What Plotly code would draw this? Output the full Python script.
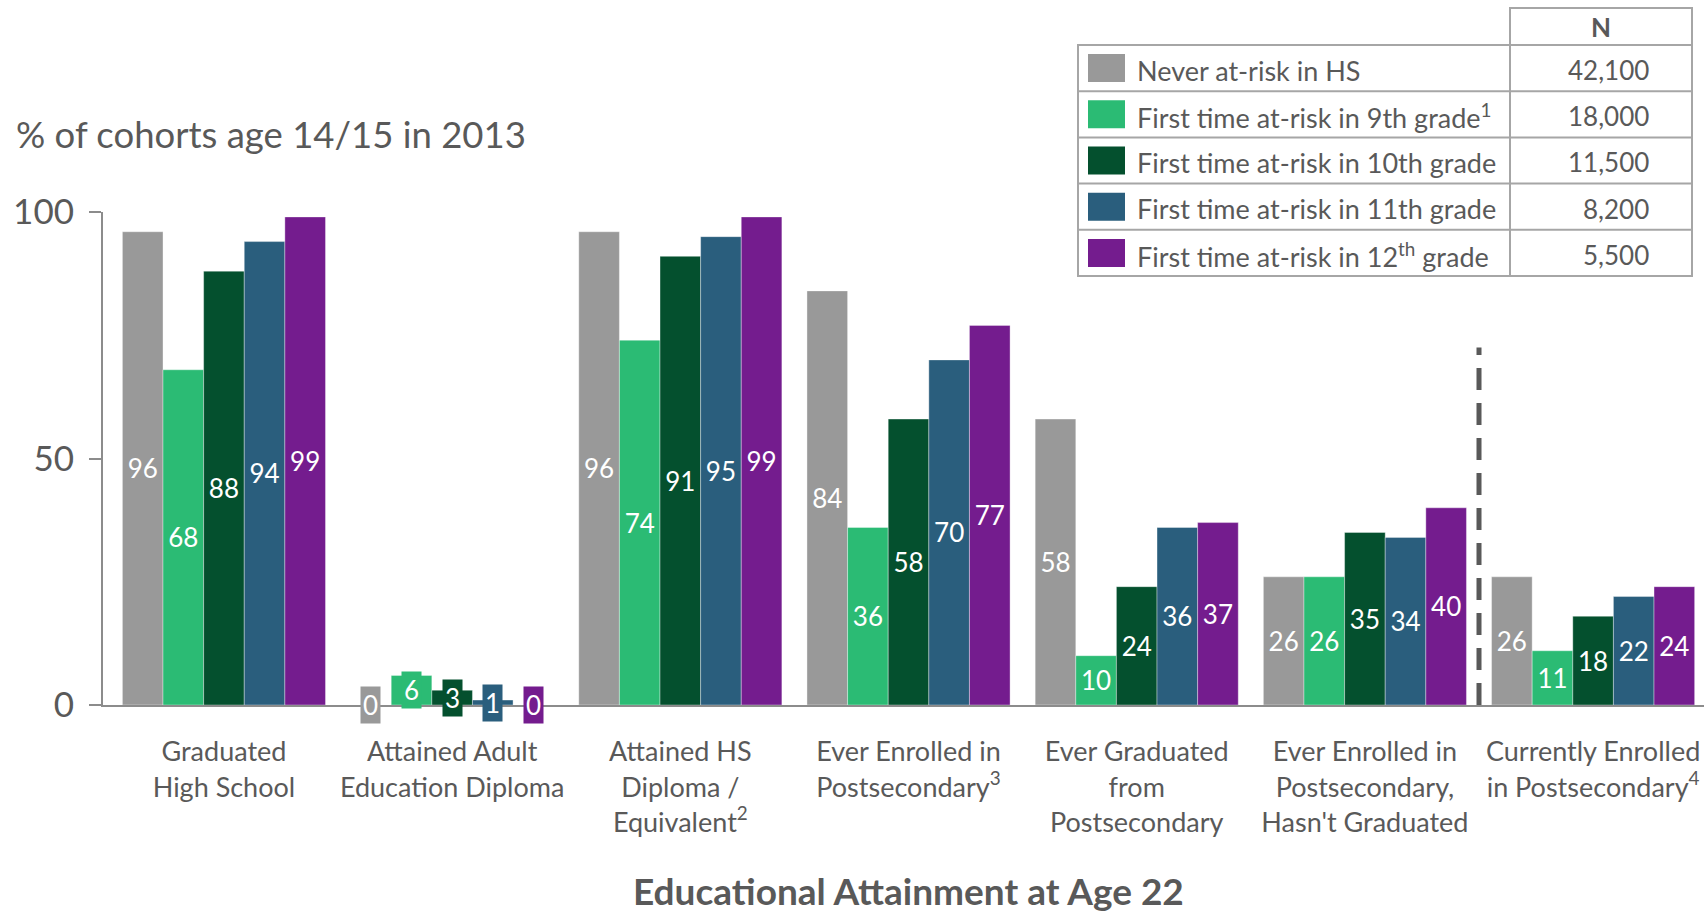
import plotly.graph_objects as go

# ---- data -------------------------------------------------------------
categories = [
    "Graduated<br>High School",
    "Attained Adult<br>Education Diploma",
    "Attained HS<br>Diploma /<br>Equivalent<sup>2</sup>",
    "Ever Enrolled in<br>Postsecondary<sup>3</sup>",
    "Ever Graduated<br>from<br>Postsecondary",
    "Ever Enrolled in<br>Postsecondary,<br>Hasn't Graduated",
    "Currently Enrolled<br>in Postsecondary<sup>4</sup>",
]
series_names = [
    "Never at-risk in HS",
    "First time at-risk in 9th grade<sup>1</sup>",
    "First time at-risk in 10th grade",
    "First time at-risk in 11th grade",
    "First time at-risk in 12<sup>th</sup> grade",
]
series_n = ["42,100", "18,000", "11,500", "8,200", "5,500"]

never_at_risk = [96, 0, 96, 84, 58, 26, 26]
first_9th = [68, 6, 74, 36, 10, 26, 11]
first_10th = [88, 3, 91, 58, 24, 35, 18]
first_11th = [94, 1, 95, 70, 36, 34, 22]
first_12th = [99, 0, 99, 77, 37, 40, 24]

y_ticks = [0, 50, 100]

# ---- style ------------------------------------------------------------
colors = ["#999999", "#2bbb74", "#04502e", "#2a5e7d", "#741c8e"]
FONT = "Lato"
TEXT = "#595959"
W, H = 1704, 914
L, R, T, B = 103, 0, 212, 209  # plot area margins (px)

all_series = [never_at_risk, first_9th, first_10th, first_11th, first_12th]
small_group = 1  # category whose bars are too short for inside labels
BARGAP = 0.11

fig = go.Figure()
for name, vals, col in zip(series_names, all_series, colors):
    labels = ["" if i == small_group else str(v) for i, v in enumerate(vals)]
    fig.add_trace(go.Bar(
        x=categories, y=vals, name=name,
        marker=dict(color=col, line=dict(width=0.6, color="rgba(255,255,255,0.6)")),
        text=labels, textposition="inside", insidetextanchor="middle", textangle=0,
        insidetextfont=dict(family=FONT, size=26, color="white"),
        showlegend=False, cliponaxis=False,
    ))

# boxed labels for the short bars
n_series = len(all_series)
bar_w = (1 - BARGAP) / n_series
for k, (vals, col) in enumerate(zip(all_series, colors)):
    v = vals[small_group]
    xoff = -((1 - BARGAP) / 2) + bar_w * (k + 0.5)
    fig.add_annotation(
        x=small_group + xoff, y=v / 2, xref="x", yref="y", yanchor="middle",
        text=str(v), showarrow=False, bgcolor=col, borderpad=2,
        font=dict(family=FONT, size=26, color="white"),
    )

# dashed divider before the last group
fig.add_shape(type="line", xref="x", yref="y", x0=5.5, x1=5.5, y0=0, y1=72.5,
              line=dict(color="#595959", width=5, dash="22px,13px"))

# ---- legend table (pixel positions converted to paper coords) ---------
pw, ph = W - L - R, H - T - B


def px(x):
    return (x - L) / pw


def py(y):
    return (H - B - y) / ph


tx0, tx1, tcol = 1078, 1692, 1510
ty0, row_h = 45, 46.2
border = dict(color="#a6a6a6", width=2)
n_rows = len(series_names)
ty1 = ty0 + row_h * n_rows
# header cell
fig.add_shape(type="rect", xref="paper", yref="paper", x0=px(tcol), x1=px(tx1),
              y0=py(ty0), y1=py(8), line=border)
fig.add_annotation(xref="paper", yref="paper", x=px((tcol + tx1) / 2), y=py(27),
                   xanchor="center", yanchor="middle",
                   text="<b>N</b>", showarrow=False, font=dict(family=FONT, size=26, color=TEXT))
fig.add_shape(type="rect", xref="paper", yref="paper", x0=px(tx0), x1=px(tx1),
              y0=py(ty1), y1=py(ty0), line=border)
fig.add_shape(type="line", xref="paper", yref="paper", x0=px(tcol), x1=px(tcol),
              y0=py(ty1), y1=py(ty0), line=border)
for i, (name, n, col) in enumerate(zip(series_names, series_n, colors)):
    top = ty0 + row_h * i
    mid = top + row_h / 2
    if i > 0:
        fig.add_shape(type="line", xref="paper", yref="paper", x0=px(tx0), x1=px(tx1),
                      y0=py(top), y1=py(top), line=border)
    fig.add_shape(type="rect", xref="paper", yref="paper", x0=px(1088), x1=px(1125),
                  y0=py(mid + 14), y1=py(mid - 14), fillcolor=col, line=dict(width=0))
    fig.add_annotation(xref="paper", yref="paper", x=px(1135), y=py(mid + 2),
                       xanchor="left", yanchor="middle",
                       text=name, showarrow=False, font=dict(family=FONT, size=27, color=TEXT))
    fig.add_annotation(xref="paper", yref="paper", x=px(1651), y=py(mid + 2),
                       xanchor="right", yanchor="middle",
                       text=n, showarrow=False, font=dict(family=FONT, size=26, color=TEXT))

# axis titles
fig.add_annotation(xref="paper", yref="paper", x=px(14), y=py(134),
                   xanchor="left", yanchor="middle",
                   text="% of cohorts age 14/15 in 2013", showarrow=False,
                   font=dict(family=FONT, size=36.5, color=TEXT))
fig.add_annotation(xref="paper", yref="paper", x=px(908), y=py(890),
                   xanchor="center", yanchor="middle",
                   text="<b>Educational Attainment at Age 22</b>", showarrow=False,
                   font=dict(family=FONT, size=37, color=TEXT))

fig.update_layout(
    width=W, height=H, margin=dict(l=L, r=R, t=T, b=B),
    barmode="group", bargap=BARGAP, bargroupgap=0,
    plot_bgcolor="white", paper_bgcolor="white",
    font=dict(family=FONT, color=TEXT),
)
fig.update_xaxes(range=[-0.53, 6.486], showline=True, linecolor="#8c8c8c", linewidth=2,
                 ticks="", showgrid=False, ticklabelstandoff=22,
                 tickfont=dict(family=FONT, size=27, color=TEXT))
fig.update_yaxes(range=[0, 100], tickvals=y_ticks, showline=True, linecolor="#8c8c8c", linewidth=2,
                 ticks="outside", ticklen=12, tickcolor="#8c8c8c", tickwidth=2, showgrid=False,
                 zeroline=False, tickfont=dict(family=FONT, size=35, color=TEXT), ticklabelstandoff=8)

fig.write_html("out.html")
